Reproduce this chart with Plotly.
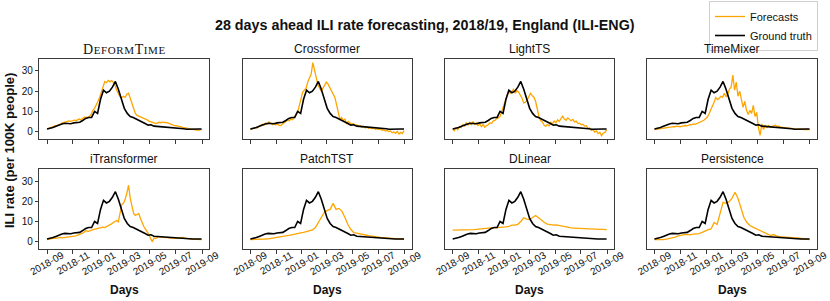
import pandas as pd
import plotly.graph_objects as go

# ---------------- data ----------------
START = "2018-09-01"
weekly_dates = pd.date_range(START, periods=53, freq="7D")
fourday_dates = pd.date_range(START, periods=92, freq="4D")

ground_truth = [1.3, 1.6, 2.0, 2.6, 3.3, 3.8, 4.1, 4.1, 3.9, 4.3,
                4.5, 4.6, 5.5, 6.5, 7.0, 7.0, 10.0, 9.0, 16.0, 20.5,
                19.2, 20.0, 22.0, 24.8, 21.0, 16.0, 11.5, 9.0, 7.5, 7.0,
                6.3, 5.8, 5.0, 4.0, 3.2, 3.4, 2.7, 2.6, 2.5, 2.4,
                2.2, 2.1, 2.0, 1.9, 1.7, 1.5, 1.4, 1.2, 1.3, 1.3,
                1.3, 1.3, 1.3]

deformtime = [1.2, 1.6, 1.9, 2.3, 2.5, 2.9, 3.1, 3.3, 3.8, 4.3,
              4.5, 4.9, 5.0, 5.3, 5.1, 5.5, 5.7, 5.4, 6.0, 6.2,
              5.9, 6.8, 7.2, 6.9, 7.1, 7.4, 8.5, 10.5, 11.5, 13.0,
              15.0, 17.0, 19.5, 22.0, 24.8, 24.2, 25.3, 24.6, 25.2, 24.4,
              23.0, 20.5, 18.5, 17.2, 16.8, 17.5, 17.0, 18.5, 19.0, 16.5,
              13.5, 11.5, 9.0, 8.0, 7.5, 7.2, 6.9, 6.5, 6.2, 5.8,
              5.2, 5.0, 4.6, 4.3, 4.0, 4.2, 4.6, 4.4, 4.7, 4.5,
              4.6, 4.3, 3.9, 3.6, 3.4, 3.0, 2.9, 2.6, 2.4, 2.3,
              2.1, 2.0, 1.8, 1.6, 1.4, 1.2, 1.1, 0.9, 0.8, 0.6,
              0.9, 1.0]

crossformer = [1.0, 1.3, 1.5, 2.1, 1.8, 2.6, 3.0, 3.6, 3.2, 4.2,
               3.6, 4.8, 3.9, 3.4, 4.1, 3.3, 3.8, 3.1, 3.0, 3.6,
               4.4, 5.2, 5.8, 5.4, 6.2, 5.9, 7.0, 8.0, 9.5, 13.0,
               16.0, 19.5, 20.5, 21.5, 24.5, 26.5, 28.5, 34.1, 30.0, 26.5,
               23.0, 21.5, 20.0, 21.5, 23.0, 24.5, 23.5, 22.0, 20.5, 18.5,
               17.0, 13.5, 9.0, 6.0, 7.0, 5.5, 6.2, 4.0, 5.0, 4.3,
               3.6, 4.0, 3.0, 3.4, 2.6, 2.9, 2.2, 2.6, 1.8, 2.3,
               1.6, 2.0, 1.4, 1.8, 1.2, 1.5, 1.0, 1.3, 0.7, 0.9,
               0.3, 0.6, 0.0, 0.3, -0.6, -0.2, -0.9, 0.1, -1.2, -0.4,
               -1.0, 0.5]

lightts = [1.2, 0.4, 1.9, 1.0, 2.6, 2.0, 3.5, 2.8, 4.5, 3.2,
           4.6, 3.5, 5.0, 3.6, 4.2, 3.0, 3.8, 2.5, 3.5, 2.2,
           3.0, 3.4, 4.4, 4.0, 5.3, 5.5, 6.6, 6.8, 7.5, 10.0,
           12.5, 15.5, 18.0, 20.0, 19.0, 20.0, 21.0, 19.0, 20.2, 19.5,
           18.0, 16.5, 14.2, 14.5, 15.5, 17.5, 19.0, 17.8, 17.0, 15.0,
           11.0, 7.5, 5.5, 4.8, 3.2, 2.6, 3.6, 2.8, 4.6, 3.9,
           5.2, 4.4, 5.8, 5.0, 6.4, 7.6, 6.2, 5.6, 6.8, 5.9,
           5.4, 6.0, 4.8, 5.2, 4.0, 4.2, 3.4, 3.6, 2.7, 2.9,
           1.6, 1.8, 0.6, 1.0, -0.2, 0.3, -1.0, -0.3, -2.0, -0.8,
           -0.4, 1.0]

timemixer = [1.0, 1.1, 1.3, 1.4, 1.5, 1.7, 1.6, 1.9, 2.1, 1.9,
             2.3, 2.5, 2.4, 2.7, 2.5, 2.4, 2.6, 2.8, 3.0, 2.8,
             3.2, 3.4, 3.5, 3.8, 3.6, 4.0, 4.1, 4.5, 5.0, 5.6,
             6.3, 7.2, 8.8, 10.5, 12.5, 14.5, 16.8, 15.8, 16.5, 17.5,
             17.0, 19.0, 17.2, 18.5, 21.0, 22.0, 28.0, 20.5, 24.5, 17.5,
             20.0, 15.0, 12.0, 15.0, 10.5, 8.5, 10.5, 9.0, 13.0, 7.5,
             9.5, 2.0, -1.8, 3.8, 1.0, 3.2, 2.0, 3.0, 2.2, 2.6,
             3.0, 3.2, 2.4, 2.8, 2.2, 2.1, 1.8, 2.0, 1.7, 1.6,
             1.5, 1.4, 1.5, 1.3, 1.2, 1.3, 1.1, 1.2, 1.0, 1.1,
             1.0, 1.0]

itransformer = [1.0, 1.2, 1.4, 1.5, 1.7, 1.6, 1.9, 2.0, 2.1, 1.9,
                2.0, 2.1, 2.2, 2.3, 2.4, 2.5, 2.7, 2.9, 3.2, 3.5,
                3.8, 4.2, 4.8, 5.5, 5.0, 5.2, 5.6, 6.0, 6.2, 6.6,
                6.8, 7.0, 6.9, 7.2, 7.0, 7.4, 7.8, 8.2, 8.8, 9.5,
                10.0, 10.5, 9.8, 14.0, 18.5, 19.0, 21.0, 24.0, 28.0, 21.5,
                18.0, 14.0, 13.0, 13.5, 14.0, 11.5, 9.0, 7.5, 6.2, 5.0,
                3.5, 1.5, 0.0, 1.8, 1.5, 2.2, 2.5, 2.2, 2.3, 2.1,
                2.0, 2.1, 1.8, 1.9, 1.7, 1.6, 1.5, 1.6, 1.8, 2.0,
                2.1, 1.7, 1.5, 1.4, 1.3, 1.2, 1.2, 1.1, 1.1, 1.0,
                1.0, 1.0]

patchtst = [1.0, 1.0, 1.0, 1.1, 1.2, 1.3, 1.4, 1.6, 1.8, 2.1,
            2.4, 2.6, 2.9, 3.1, 3.4, 3.8, 4.0, 4.3, 4.6, 5.0,
            5.3, 5.8, 7.0, 9.5, 12.5, 14.5, 15.5, 16.0, 19.0, 16.0,
            16.5, 15.0, 12.0, 8.5, 6.0, 4.5, 4.2, 4.0, 3.7, 3.3,
            3.0, 2.7, 2.5, 2.3, 2.1, 2.0, 1.8, 1.7, 1.6, 1.5,
            1.4, 1.3, 1.2]

dlinear = [5.7, 5.7, 5.7, 5.8, 5.8, 5.8, 5.9, 6.0, 6.1, 6.3,
           6.4, 6.5, 6.6, 6.8, 6.8, 6.9, 7.0, 7.0, 7.3, 7.6,
           8.2, 8.2, 8.6, 10.0, 11.8, 11.2, 11.0, 12.0, 13.0, 11.8,
           10.5, 9.5, 8.7, 8.3, 8.2, 8.3, 8.0, 7.6, 7.2, 6.9,
           6.8, 6.7, 6.6, 6.5, 6.5, 6.4, 6.4, 6.3, 6.3, 6.2,
           6.1, 6.1, 6.0]

persistence = [1.0, 0.9, 0.8, 1.0, 1.2, 1.5, 1.8, 2.2, 2.8, 3.2,
               3.5, 3.6, 3.4, 3.7, 3.9, 4.0, 4.6, 5.5, 6.0, 6.3,
               9.5, 8.5, 14.0, 19.5, 19.0, 19.8, 21.5, 24.5, 21.5, 16.5,
               12.0, 9.5, 8.0, 7.2, 6.5, 6.0, 5.3, 4.6, 3.7, 3.0,
               3.5, 2.7, 2.5, 2.3, 2.1, 2.0, 1.9, 1.8, 1.8, 1.6,
               1.4, 1.2, 1.0]

model_names = ["DeformTime", "Crossformer", "LightTS", "TimeMixer",
               "iTransformer", "PatchTST", "DLinear", "Persistence"]
forecasts = [(fourday_dates, deformtime), (fourday_dates, crossformer),
             (fourday_dates, lightts), (fourday_dates, timemixer),
             (fourday_dates, itransformer), (weekly_dates, patchtst),
             (weekly_dates, dlinear), (weekly_dates, persistence)]

x_tick_dates = ["2018-09-01", "2018-11-01", "2019-01-01", "2019-03-01",
                "2019-05-01", "2019-07-01", "2019-09-01"]
x_tick_labels = ["2018-09", "2018-11", "2019-01", "2019-03",
                 "2019-05", "2019-07", "2019-09"]
y_ticks = [0, 10, 20, 30]

# ---------------- styling ----------------
W, H = 830, 301
ORANGE = "#FFA500"
SANS = "Liberation Sans, Arial, sans-serif"
SERIF = "Liberation Serif, Times New Roman, serif"
FRAME = "#3a3a3a"

cols_px = [(39.3, 209.3), (242.7, 411.7), (445.0, 614.3), (646.7, 817.3)]
rows_px = [(59.0, 139.3), (169.3, 249.3)]

# axis ranges from the data (matplotlib-like 5% margins)
all_vals = ground_truth + [v for _, s in forecasts for v in s]
vmin, vmax = min(all_vals), max(all_vals)
ypad = 0.05 * (vmax - vmin)
y_range = [vmin - ypad, vmax + ypad]
t0, t1 = weekly_dates[0], weekly_dates[-1]
xpad = (t1 - t0) * 0.05
x_range = [t0 - xpad, t1 + xpad]

fig = go.Figure()
annotations = []

for k, name in enumerate(model_names):
    r, c = divmod(k, 4)
    ax = "" if k == 0 else str(k + 1)
    xd, yd = forecasts[k]
    fig.add_trace(go.Scatter(x=xd, y=yd, mode="lines", name="Forecasts",
                             line=dict(color=ORANGE, width=1.3),
                             showlegend=(k == 0), legendrank=1,
                             xaxis="x" + ax, yaxis="y" + ax))
    fig.add_trace(go.Scatter(x=weekly_dates, y=ground_truth, mode="lines",
                             name="Ground truth",
                             line=dict(color="black", width=1.6),
                             showlegend=(k == 0), legendrank=2,
                             xaxis="x" + ax, yaxis="y" + ax))
    x0, x1 = cols_px[c]
    ytop, ybot = rows_px[r]
    xdom = [x0 / W, x1 / W]
    ydom = [1 - ybot / H, 1 - ytop / H]
    fig.layout["xaxis" + ax] = dict(
        domain=xdom, anchor="y" + ax, type="date", range=x_range,
        automargin=False,
        tickvals=x_tick_dates, ticktext=x_tick_labels,
        showticklabels=(r == 1), tickangle=-30, ticklabelshift=15,
        ticklabelstandoff=-8, ticklabeloverflow="allow",
        ticks="outside", ticklen=3.5, tickwidth=1, tickcolor=FRAME,
        showline=True, linecolor=FRAME, linewidth=1, mirror=True,
        showgrid=False, zeroline=False,
        tickfont=dict(family=SANS, size=10, color="#111"))
    fig.layout["yaxis" + ax] = dict(
        domain=ydom, anchor="x" + ax, range=y_range, automargin=False,
        tickvals=y_ticks, showticklabels=(c == 0),
        ticks="outside" if c == 0 else "", ticklen=3.5, tickwidth=1,
        tickcolor=FRAME,
        showline=True, linecolor=FRAME, linewidth=1, mirror=True,
        showgrid=False, zeroline=False,
        tickfont=dict(family=SANS, size=10, color="#111"))
    # subplot title
    cx = (x0 + x1) / 2 / W
    ty = 1 - (49 if r == 0 else 159) / H
    if name == "DeformTime":
        txt = ("<span style='letter-spacing:0.6px'>D"
               "<span style='font-size:11px'>EFORM</span>"
               "T<span style='font-size:11px'>IME</span></span>")
        fnt = dict(family=SERIF, size=14, color="#111")
    else:
        txt = name
        fnt = dict(family=SANS, size=12, color="#111")
    annotations.append(dict(text=txt, x=cx, y=ty, xref="paper", yref="paper",
                            xanchor="center", yanchor="middle",
                            showarrow=False, font=fnt))
    if r == 1:
        annotations.append(dict(text="<b>Days</b>", x=cx, y=1 - 290 / H,
                                xref="paper", yref="paper",
                                xanchor="center", yanchor="middle",
                                showarrow=False,
                                font=dict(family=SANS, size=12, color="#111")))

annotations.append(dict(text="<b>28 days ahead ILI rate forecasting, 2018/19, England (ILI-ENG)</b>",
                        x=425 / W, y=1 - 25 / H, xref="paper", yref="paper",
                        xanchor="center", yanchor="middle", showarrow=False,
                        font=dict(family=SANS, size=14.3, color="#111")))
annotations.append(dict(text="<b>ILI rate (per 100K people)</b>",
                        x=9 / W, y=1 - 151 / H, xref="paper", yref="paper",
                        xanchor="center", yanchor="middle", textangle=-90,
                        showarrow=False,
                        font=dict(family=SANS, size=13, color="#111")))

fig.update_layout(
    width=W, height=H, autosize=False,
    margin=dict(l=0, r=0, t=0, b=0, autoexpand=False),
    paper_bgcolor="white", plot_bgcolor="white",
    annotations=annotations,
    showlegend=True,
    legend=dict(x=818 / W, y=1 - 1 / H, xanchor="right", yanchor="top",
                bgcolor="rgba(255,255,255,0.8)", bordercolor="#d0d0d0",
                borderwidth=1,
                font=dict(family=SANS, size=11, color="#111"),
                itemwidth=30, tracegroupgap=0),
)

fig.write_html("out.html",
               config={"displayModeBar": False},
               post_script="document.body.style.margin='0';"
                           "document.body.style.overflow='hidden';")
